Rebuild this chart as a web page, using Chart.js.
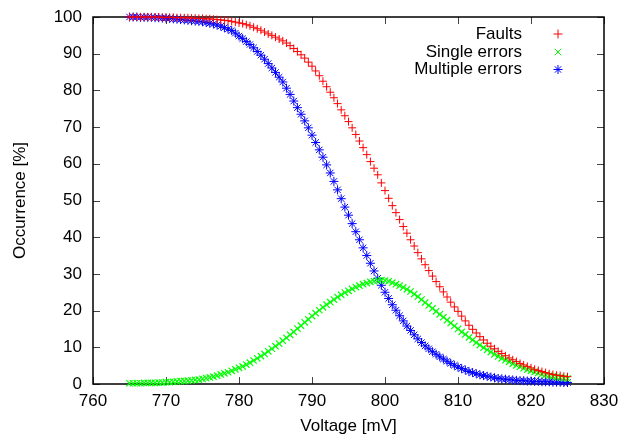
<!DOCTYPE html>
<html>
<head>
<meta charset="utf-8">
<script src="https://cdn.jsdelivr.net/npm/chart.js@4/dist/chart.umd.min.js"></script>
<style>
  html, body { margin: 0; padding: 0; background: #fff; }
  #wrap { width: 633px; height: 437px; }
</style>
</head>
<body>
<div id="wrap"><canvas id="grafico" width="633" height="437"></canvas></div>
<script>
// voltage grid of the measurement: 765 mV .. 825 mV, every 0.5 mV
const voltajeInicio = 765;
const voltajePaso = 0.5;

const fallas = [
    100, 100, 100, 100, 100, 100, 100, 100, 100, 99.9,
    99.9, 99.9, 99.9, 99.8, 99.8, 99.8, 99.8, 99.7, 99.7, 99.6,
    99.6, 99.5, 99.5, 99.4, 99.3, 99.2, 99.1, 99.0, 98.8, 98.6,
    98.4, 98.2, 97.9, 97.6, 97.2, 96.8, 96.4, 95.9, 95.4, 95.0,
    94.5, 94.0, 93.5, 92.9, 92.2, 91.4, 90.6, 89.7, 88.8, 87.7,
    86.6, 85.3, 84.0, 82.5, 81.0, 79.5, 78.0, 76.4, 74.7, 73.1,
    71.5, 69.8, 68.0, 66.2, 64.4, 62.5, 60.6, 58.8, 57.0, 54.8,
    52.7, 50.6, 48.6, 46.7, 44.8, 42.9, 41.1, 39.3, 37.6, 35.8,
    34.1, 32.5, 30.9, 29.4, 27.9, 26.5, 25.1, 23.7, 22.3, 21.0,
    19.8, 18.5, 17.2, 16.0, 14.9, 13.9, 12.9, 12.0, 11.1, 10.3,
    9.6, 8.9, 8.3, 7.7, 7.1, 6.6, 6.1, 5.6, 5.2, 4.8,
    4.4, 4.0, 3.7, 3.4, 3.1, 2.8, 2.6, 2.4, 2.3, 2.1,
    2.0
];

const erroresSimples = [
    0.2, 0.2, 0.2, 0.2, 0.3, 0.3, 0.3, 0.3, 0.4, 0.4,
    0.5, 0.5, 0.6, 0.7, 0.8, 0.8, 0.9, 1.0, 1.1, 1.2,
    1.4, 1.6, 1.8, 2.0, 2.3, 2.6, 2.9, 3.2, 3.6, 4.0,
    4.4, 4.8, 5.3, 5.8, 6.4, 7.0, 7.6, 8.2, 8.9, 9.6,
    10.3, 11.0, 11.8, 12.6, 13.4, 14.2, 15.1, 15.9, 16.8, 17.6,
    18.5, 19.3, 20.1, 20.9, 21.6, 22.3, 23.0, 23.7, 24.3, 24.9,
    25.4, 25.9, 26.4, 26.8, 27.2, 27.5, 27.8, 28.0, 28.2, 28.3,
    28.2, 28.0, 27.6, 27.2, 26.8, 26.3, 25.8, 25.2, 24.5, 23.8,
    23.0, 22.2, 21.4, 20.6, 19.8, 19.0, 18.2, 17.4, 16.6, 15.8,
    15.0, 14.2, 13.5, 12.7, 12.0, 11.3, 10.6, 9.9, 9.3, 8.7,
    8.1, 7.5, 7.0, 6.5, 6.0, 5.5, 5.1, 4.7, 4.3, 3.9,
    3.6, 3.3, 3.0, 2.7, 2.5, 2.3, 2.1, 1.9, 1.8, 1.6,
    1.5
];

const erroresMultiples = [
    100, 100, 100, 99.9, 99.9, 99.9, 99.9, 99.8, 99.8, 99.7,
    99.7, 99.6, 99.5, 99.4, 99.3, 99.2, 99.1, 99.0, 98.9, 98.8,
    98.7, 98.5, 98.3, 98.1, 97.8, 97.5, 97.1, 96.7, 96.3, 95.6,
    94.8, 94.1, 93.3, 92.5, 91.6, 90.6, 89.6, 88.5, 87.3, 86.1,
    84.9, 83.6, 82.3, 80.6, 78.9, 77.1, 75.3, 73.5, 71.7, 69.8,
    67.8, 65.8, 63.8, 61.8, 59.7, 57.5, 55.2, 52.9, 50.5, 48.2,
    46.0, 43.7, 41.5, 39.3, 37.1, 35.0, 32.9, 30.8, 28.8, 26.9,
    25.0, 23.3, 21.6, 20.1, 18.6, 17.2, 15.8, 14.6, 13.4, 12.3,
    11.3, 10.4, 9.6, 8.8, 8.1, 7.4, 6.8, 6.2, 5.6, 5.1,
    4.6, 4.2, 3.8, 3.4, 3.1, 2.8, 2.5, 2.3, 2.1, 1.9,
    1.7, 1.5, 1.4, 1.3, 1.2, 1.1, 1.0, 0.9, 0.9, 0.8,
    0.8, 0.7, 0.7, 0.6, 0.6, 0.6, 0.5, 0.5, 0.5, 0.4,
    0.4
];

const etiquetas = ['Faults', 'Single errors', 'Multiple errors'];
const colores = ['#ff0000', '#00ff00', '#0000ff'];
const formas = ['cross', 'crossRot', 'star'];

const FUENTE = '"Liberation Sans", Arial, Helvetica, sans-serif';

function puntos(serie) {
    return serie.map((valor, i) => ({ x: voltajeInicio + i * voltajePaso, y: valor }));
}

// gnuplot-like frame: full box with inward ticks mirrored on every side
const marco = {
    id: 'marco',
    beforeDatasetsDraw(chart) {
        const { ctx, chartArea: a, scales } = chart;
        const largo = 7;
        ctx.save();
        ctx.strokeStyle = '#444';
        ctx.lineWidth = 1;
        ctx.beginPath();
        scales.x.ticks.forEach(t => {
            const px = Math.round(scales.x.getPixelForValue(t.value)) + 0.5;
            ctx.moveTo(px, a.bottom); ctx.lineTo(px, a.bottom - largo);
            ctx.moveTo(px, a.top); ctx.lineTo(px, a.top + largo);
        });
        scales.y.ticks.forEach(t => {
            const py = Math.round(scales.y.getPixelForValue(t.value)) + 0.5;
            ctx.moveTo(a.left, py); ctx.lineTo(a.left + largo, py);
            ctx.moveTo(a.right, py); ctx.lineTo(a.right - largo, py);
        });
        ctx.stroke();
        ctx.strokeStyle = '#000';
        ctx.lineWidth = 1.5;
        ctx.strokeRect(a.left, a.top, a.right - a.left, a.bottom - a.top);
        ctx.restore();
    },
    afterDraw(chart) {
        const { ctx } = chart;
        const textoDerecha = 522;
        const marcaX = 558;
        const filas = [34, 52, 69.5];
        ctx.save();
        ctx.font = '17px ' + FUENTE;
        ctx.textAlign = 'right';
        ctx.textBaseline = 'middle';
        etiquetas.forEach((texto, i) => {
            ctx.fillStyle = '#000';
            ctx.fillText(texto, textoDerecha, filas[i]);
            ctx.strokeStyle = colores[i];
            ctx.fillStyle = colores[i];
            ctx.lineWidth = 1;
            Chart.helpers.drawPoint(ctx, { pointStyle: formas[i], radius: 4.5, rotation: 0, borderWidth: 1 }, marcaX, filas[i]);
        });
        ctx.restore();
    }
};

const series = [fallas, erroresSimples, erroresMultiples];
const radios = [4, 4.5, 4.5];
const grosores = [1, 1.2, 1];

new Chart(document.getElementById('grafico').getContext('2d'), {
    type: 'scatter',
    data: {
        datasets: series.map((serie, i) => ({
            label: etiquetas[i],
            data: puntos(serie),
            pointStyle: formas[i],
            pointRadius: radios[i],
            pointBorderWidth: grosores[i],
            borderColor: colores[i],
            backgroundColor: colores[i],
            showLine: false,
            clip: false
        }))
    },
    options: {
        responsive: false,
        animation: false,
        layout: { padding: { top: 17, right: 29, left: 0, bottom: 0 } },
        plugins: {
            legend: { display: false },
            tooltip: { enabled: false }
        },
        scales: {
            x: {
                type: 'linear',
                min: 760,
                max: 830,
                afterFit: s => { s.height = 53; s.paddingLeft = 0; s.paddingRight = 0; },
                grid: { display: false, drawTicks: false },
                border: { display: false },
                ticks: {
                    stepSize: 10,
                    padding: 7,
                    color: '#000',
                    font: { family: FUENTE, size: 17 }
                },
                title: {
                    display: true,
                    text: 'Voltage [mV]',
                    color: '#000',
                    padding: { top: 0, bottom: 0 },
                    font: { family: FUENTE, size: 17 }
                }
            },
            y: {
                min: 0,
                max: 100,
                afterFit: s => { s.width = 93; s.paddingTop = 0; s.paddingBottom = 0; },
                grid: { display: false, drawTicks: false },
                border: { display: false },
                ticks: {
                    stepSize: 10,
                    padding: 11,
                    color: '#000',
                    font: { family: FUENTE, size: 17 }
                },
                title: {
                    display: true,
                    text: 'Occurrence [%]',
                    color: '#000',
                    padding: { top: 10, bottom: 0 },
                    font: { family: FUENTE, size: 17 }
                }
            }
        }
    },
    plugins: [marco]
});
</script>
</body>
</html>
